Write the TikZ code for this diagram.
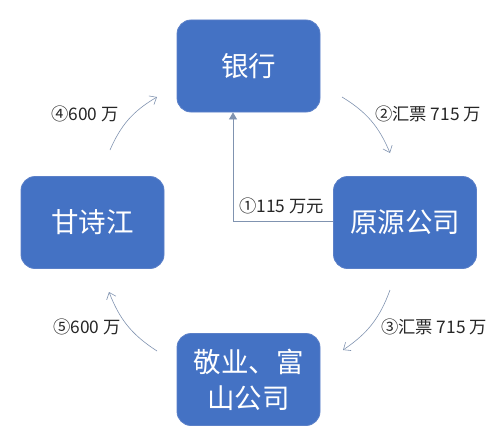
\documentclass[tikz,border=0pt]{standalone}
\usepackage{fontspec}
\setmainfont{Noto Sans CJK SC}
\usetikzlibrary{arrows.meta}
\definecolor{boxblue}{HTML}{4472C4}
\definecolor{boxline}{HTML}{5B80C8}
\definecolor{arrowc}{HTML}{8093B0}
\definecolor{labc}{HTML}{262626}
\begin{document}
\begin{tikzpicture}[x=1pt,y=-1pt,
  party/.style={draw=boxline, line width=0.8pt, fill=boxblue, rounded corners=14pt,
    minimum width=143pt, minimum height=92pt, text=white, inner sep=0pt,
    font=\fontsize{27.5}{36}\selectfont, align=center},
  flow/.style={draw=arrowc, line width=0.6pt, -{Straight Barb[length=6pt,width=10pt]}},
  lab/.style={text=labc, font=\fontsize{17.3}{19}\selectfont, inner sep=0pt, anchor=west}
]
\useasboundingbox (0,0) rectangle (500,444);
\node[party] (bank) at (248.5,66) {银行};
\node[party] (gan) at (92.5,222.5) {甘诗江};
\node[party] (yuan) at (405,222.5) {原源公司};
\node[party] (jing) at (248.5,379.5) {敬业、富\\山公司};

\coordinate (c2s) at (342,97);
\coordinate (c2e) at (390,153);
\coordinate (c3s) at (390,290);
\coordinate (c3e) at (343,350);
\coordinate (c5s) at (157,351);
\coordinate (c5e) at (109,292);
\coordinate (c4s) at (110,150);
\coordinate (c4e) at (157,97);
\coordinate (bend1) at (233,221);

\draw[draw=arrowc, line width=0.8pt, -{Triangle[length=7pt,width=8pt]}]
  (yuan.west |- bend1) -- (bend1) -- (bend1 |- bank.south);
\node[lab] (l1) at (239,206) {①115 万元};

\draw[flow] (c2s) to[bend left=18] (c2e);
\draw[flow] (c3s) to[bend left=18] (c3e);
\draw[flow] (c5s) to[bend left=18] (c5e);
\draw[flow] (c4s) to[bend left=18] (c4e);

\node[lab] (l2) at (375,114) {②汇票 715 万};
\node[lab] (l3) at (381,327) {③汇票 715 万};
\node[lab] (l5) at (53,327) {⑤600 万};
\node[lab] (l4) at (51,114) {④600 万};
\end{tikzpicture}
\end{document}
